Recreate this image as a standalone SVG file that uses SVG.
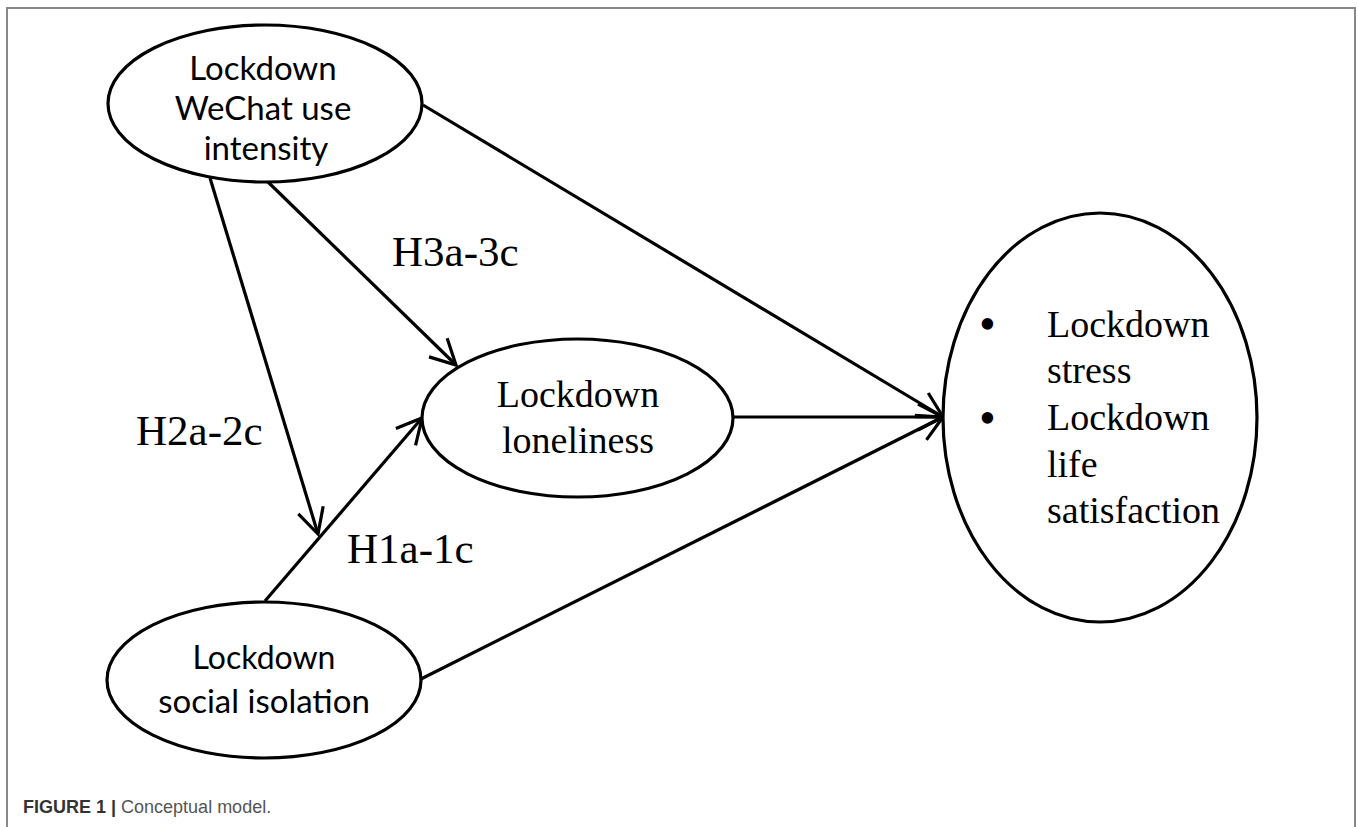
<svg xmlns="http://www.w3.org/2000/svg" width="1358" height="827" viewBox="0 0 1358 827">
<defs>
<style>
.node{fill:#fff;stroke:#000;stroke-width:3.2}
.sans{font-family:Lato,"Open Sans","Liberation Sans",sans-serif;fill:#000;text-anchor:middle}
.serif{font-family:"Liberation Serif","Times New Roman",serif;fill:#000}
.lbl{font-family:"Liberation Serif","Times New Roman",serif;font-size:43px;fill:#000}
.edge{stroke:#000;stroke-width:3.2;fill:none;marker-end:url(#arr)}
.frame{stroke:#888;stroke-width:2;fill:none}
</style>
<marker id="arr" markerUnits="userSpaceOnUse" viewBox="-30 -16 34 32" refX="0" refY="0" markerWidth="34" markerHeight="32" orient="auto">
<path d="M-25,-13 L0,0 L-25,13" fill="none" stroke="#000" stroke-width="3.2" stroke-linejoin="miter"/>
</marker>
</defs>
<rect width="1358" height="827" fill="#fff"/>
<path class="frame" d="M7,827 V8 H1355 V827"/>

<g id="connectors">
<line class="edge" x1="210" y1="178" x2="318" y2="534"/>
<line class="edge" x1="268" y1="182" x2="456" y2="365"/>
<line class="edge" x1="265" y1="601" x2="422" y2="418"/>
<line class="edge" x1="423" y1="105" x2="943" y2="417"/>
<line class="edge" x1="733" y1="417" x2="943" y2="417"/>
<line class="edge" x1="421" y1="679" x2="943" y2="417"/>
</g>

<g id="labels">
<text class="lbl" x="392" y="266">H3a-3c</text>
<text class="lbl" x="136" y="445">H2a-2c</text>
<text class="lbl" x="347" y="563">H1a-1c</text>
</g>

<g id="node-wechat">
<ellipse class="node" cx="265" cy="103.5" rx="157" ry="78.5"/>
<text class="sans" font-size="33" x="263" y="80">Lockdown</text>
<text class="sans" font-size="33" x="263" y="120">WeChat use</text>
<text class="sans" font-size="33" x="266" y="160">intensity</text>
</g>

<g id="node-loneliness">
<ellipse class="node" cx="577.5" cy="418" rx="155.5" ry="79"/>
<text class="serif" font-size="38" text-anchor="middle" x="578" y="407">Lockdown</text>
<text class="serif" font-size="38" text-anchor="middle" x="578" y="453">loneliness</text>
</g>

<g id="node-isolation">
<ellipse class="node" cx="264" cy="680" rx="157" ry="78"/>
<text class="sans" font-size="32" x="264" y="669">Lockdown</text>
<text class="sans" font-size="33" x="264" y="713">social isolation</text>
</g>

<g id="node-outcomes">
<ellipse class="node" cx="1100" cy="417.5" rx="157" ry="204.5"/>
<text class="serif" font-size="48" x="979" y="340">•</text>
<text class="serif" font-size="48" x="979" y="434">•</text>
<text class="serif" font-size="38" x="1047" y="337">Lockdown</text>
<text class="serif" font-size="38" x="1047" y="383">stress</text>
<text class="serif" font-size="38" x="1047" y="430">Lockdown</text>
<text class="serif" font-size="38" x="1047" y="477">life</text>
<text class="serif" font-size="38" x="1047" y="523">satisfaction</text>
</g>

<g id="caption">
<text x="23" y="813" font-family="Liberation Sans,Arial,sans-serif" font-size="18"><tspan font-weight="bold" fill="#333">FIGURE 1 | </tspan><tspan fill="#555">Conceptual model.</tspan></text>
</g>
</svg>
